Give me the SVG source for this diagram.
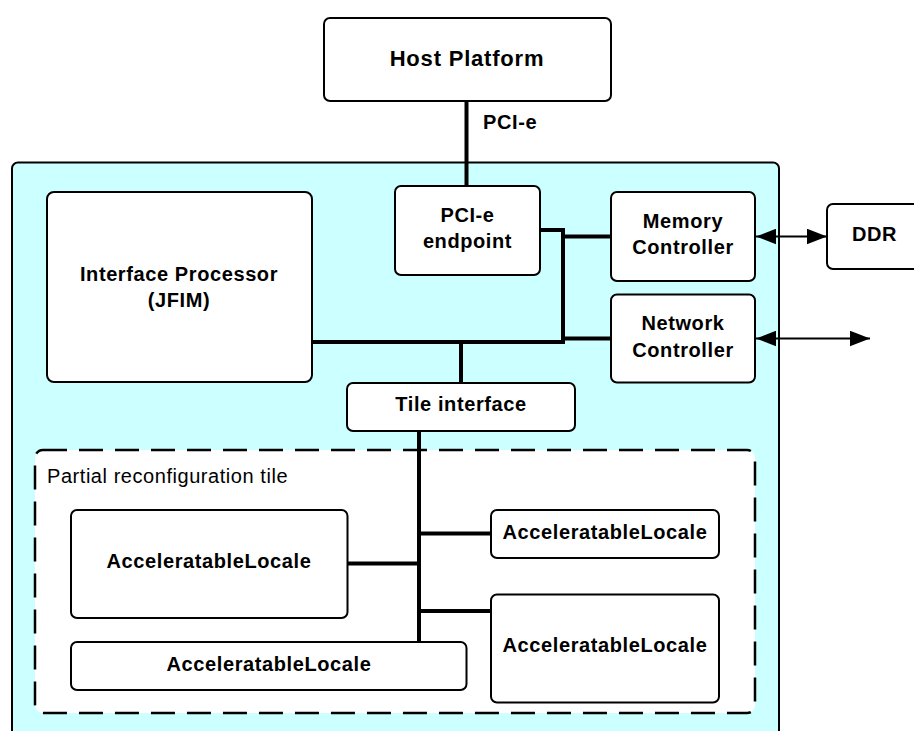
<svg xmlns="http://www.w3.org/2000/svg" width="914" height="731" viewBox="0 0 914 731">
  <style>
    .box { fill: #ffffff; stroke: #000000; stroke-width: 2; }
    .t { font-family: "Liberation Sans", Arial, sans-serif; font-weight: bold; font-size: 20px; letter-spacing: 0.6px; fill: #000000; text-anchor: middle; }
    .big { font-size: 22px; letter-spacing: 0.8px; }
    .reg { font-weight: normal; text-anchor: start; letter-spacing: 0.55px; }
    .lbl { text-anchor: start; }
    .bus { fill: none; stroke: #000000; stroke-width: 4; }
    .arr { fill: none; stroke: #000000; stroke-width: 2; }
  </style>
  <defs>
    <marker id="ah" markerUnits="userSpaceOnUse" markerWidth="20" markerHeight="16" refX="18" refY="7" orient="auto-start-reverse" viewBox="0 0 18 14">
      <path d="M0,0 L18,7 L0,14 Z" fill="#000000"/>
    </marker>
  </defs>

  <rect width="914" height="731" fill="#ffffff"/>

  <g id="fpga-board">
    <rect x="12" y="162.5" width="767" height="620" rx="6" fill="#ccffff" stroke="#000000" stroke-width="2"/>
  </g>

  <g id="pr-tile">
    <rect x="35" y="450" width="720" height="263" rx="8" fill="#ffffff" stroke="#000000" stroke-width="2.5" stroke-dasharray="24 12"/>
    <text class="t reg" x="47" y="482.7">Partial reconfiguration tile</text>
  </g>

  <g id="connectors">
    <path class="bus" d="M466.5 101 V186"/>
    <path class="bus" d="M540 230 H563 V342"/>
    <path class="bus" d="M312 342 H565"/>
    <path class="bus" d="M563 236.5 H611"/>
    <path class="bus" d="M563 338.5 H611"/>
    <path class="bus" d="M461 342 V383"/>
    <path class="bus" d="M419 431 V642"/>
    <path class="bus" d="M347 563.5 H419"/>
    <path class="bus" d="M419 533.5 H491"/>
    <path class="bus" d="M419 611 H491"/>
    <path class="arr" d="M756 236.5 H827" marker-start="url(#ah)" marker-end="url(#ah)"/>
    <path class="arr" d="M756 338.5 H870" marker-start="url(#ah)" marker-end="url(#ah)"/>
    <text class="t lbl" x="483" y="129">PCI-e</text>
  </g>

  <g id="host-platform">
    <rect class="box" x="324" y="18" width="287" height="83" rx="6"/>
    <text class="t big" x="467" y="66">Host Platform</text>
  </g>

  <g id="interface-processor">
    <rect class="box" x="47" y="192" width="265" height="190" rx="7"/>
    <text class="t" x="179" y="281">Interface Processor</text>
    <text class="t" x="179" y="307">(JFIM)</text>
  </g>

  <g id="pcie-endpoint">
    <rect class="box" x="395" y="186" width="145" height="89" rx="6"/>
    <text class="t" x="467.5" y="222">PCI-e</text>
    <text class="t" x="467.5" y="248">endpoint</text>
  </g>

  <g id="memory-controller">
    <rect class="box" x="611" y="192" width="144" height="89" rx="6"/>
    <text class="t" x="683" y="227.7">Memory</text>
    <text class="t" x="683" y="254">Controller</text>
  </g>

  <g id="network-controller">
    <rect class="box" x="611" y="294.5" width="144" height="88" rx="6"/>
    <text class="t" x="683" y="330">Network</text>
    <text class="t" x="683" y="356.7">Controller</text>
  </g>

  <g id="ddr">
    <rect class="box" x="827" y="204" width="95" height="65" rx="6"/>
    <text class="t" x="874.5" y="241">DDR</text>
  </g>

  <g id="tile-interface">
    <rect class="box" x="347" y="383" width="228" height="48" rx="6"/>
    <text class="t" x="461" y="411">Tile interface</text>
  </g>

  <g id="locale-1">
    <rect class="box" x="71" y="510" width="276.5" height="108" rx="6"/>
    <text class="t" x="209" y="567.7">AcceleratableLocale</text>
  </g>

  <g id="locale-2">
    <rect class="box" x="491" y="510" width="228" height="48" rx="6"/>
    <text class="t" x="605" y="539">AcceleratableLocale</text>
  </g>

  <g id="locale-3">
    <rect class="box" x="491" y="594.5" width="228" height="108" rx="6"/>
    <text class="t" x="605" y="651.7">AcceleratableLocale</text>
  </g>

  <g id="locale-4">
    <rect class="box" x="71" y="642" width="395.5" height="48" rx="6"/>
    <text class="t" x="269" y="670.7">AcceleratableLocale</text>
  </g>
</svg>
